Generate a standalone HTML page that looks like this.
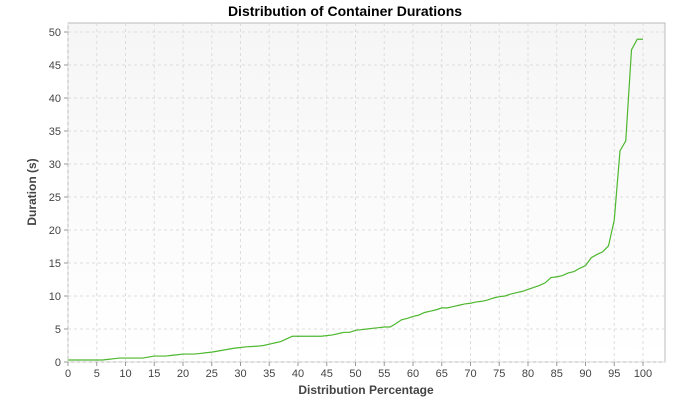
<!DOCTYPE html>
<html><head><meta charset="utf-8"><style>
body{margin:0;background:#fff;width:690px;height:400px;overflow:hidden;font-family:"Liberation Sans",sans-serif}
</style></head><body>
<svg id="chart" width="690" height="400" xmlns="http://www.w3.org/2000/svg">
<defs><linearGradient id="bg" x1="0" y1="0" x2="0" y2="1"><stop offset="0" stop-color="#f6f6f6"/><stop offset="1" stop-color="#ffffff"/></linearGradient></defs>
<text x="345" y="16" text-anchor="middle" font-size="14" font-weight="bold" fill="#000">Distribution of Container Durations</text>
<rect x="68" y="23" width="597" height="339" fill="url(#bg)" stroke="#bbb"/>
<g id="grid"></g><g id="ticks"></g>
<text x="366" y="394" text-anchor="middle" font-size="12" font-weight="bold" fill="#444">Distribution Percentage</text>
<text transform="translate(36,192) rotate(-90)" text-anchor="middle" font-size="12" font-weight="bold" fill="#444">Duration (s)</text>
<path id="line" fill="none" stroke="#4db82e" stroke-width="1.2"/>
</svg>
<script>
const xTicks=[0,5,10,15,20,25,30,35,40,45,50,55,60,65,70,75,80,85,90,95,100];
const yTicks=[0,5,10,15,20,25,30,35,40,45,50];
const durations=[0.3,0.3,0.3,0.3,0.3,0.3,0.3,0.4,0.5,0.6,0.6,0.6,0.6,0.6,0.75,0.9,0.9,0.9,1.0,1.1,1.2,1.2,1.2,1.3,1.4,1.5,1.65,1.8,1.95,2.1,2.2,2.3,2.35,2.4,2.5,2.7,2.9,3.1,3.5,3.9,3.9,3.9,3.9,3.9,3.9,4.0,4.1,4.3,4.5,4.5,4.8,4.9,5.0,5.1,5.2,5.3,5.3,5.8,6.4,6.6,6.9,7.1,7.5,7.7,7.9,8.2,8.2,8.4,8.6,8.8,8.9,9.1,9.2,9.4,9.7,9.9,10.0,10.3,10.5,10.7,11.0,11.3,11.6,12.0,12.8,12.9,13.1,13.5,13.7,14.2,14.6,15.8,16.3,16.7,17.6,21.5,32,33.5,47.3,48.9,48.9];
const X=v=>68+v*5.75, Y=v=>362-v*6.6;
const ns="http://www.w3.org/2000/svg";
const g=document.getElementById('grid'),t=document.getElementById('ticks');
function mk(tag,at,parent){const e=document.createElementNS(ns,tag);for(const k in at)e.setAttribute(k,at[k]);parent.appendChild(e);return e;}
xTicks.forEach(v=>{
 const l=mk('line',{x1:X(v),x2:X(v),y1:23,y2:362,stroke:'#ddd','stroke-dasharray':'3,3'},g);
 
 
 mk('line',{x1:X(v),x2:X(v),y1:362,y2:366,stroke:'#999'},t);
 const tx=mk('text',{x:X(v),y:377,'text-anchor':'middle','font-size':'11',fill:'#444'},t);tx.textContent=v;
 
 
});
yTicks.forEach(v=>{
 const l=mk('line',{x1:68,x2:665,y1:Y(v),y2:Y(v),stroke:'#ddd','stroke-dasharray':'3,3'},g);
 
 
 mk('line',{x1:64,x2:68,y1:Y(v),y2:Y(v),stroke:'#999'},t);
 const tx=mk('text',{x:61,y:Y(v)+4,'text-anchor':'end','font-size':'11',fill:'#444'},t);tx.textContent=v;
 
 
});
document.getElementById('line').setAttribute('d',durations.map((v,i)=>(i?'L':'M')+X(i)+','+Y(v)).join(''));
</script>
</body></html>
